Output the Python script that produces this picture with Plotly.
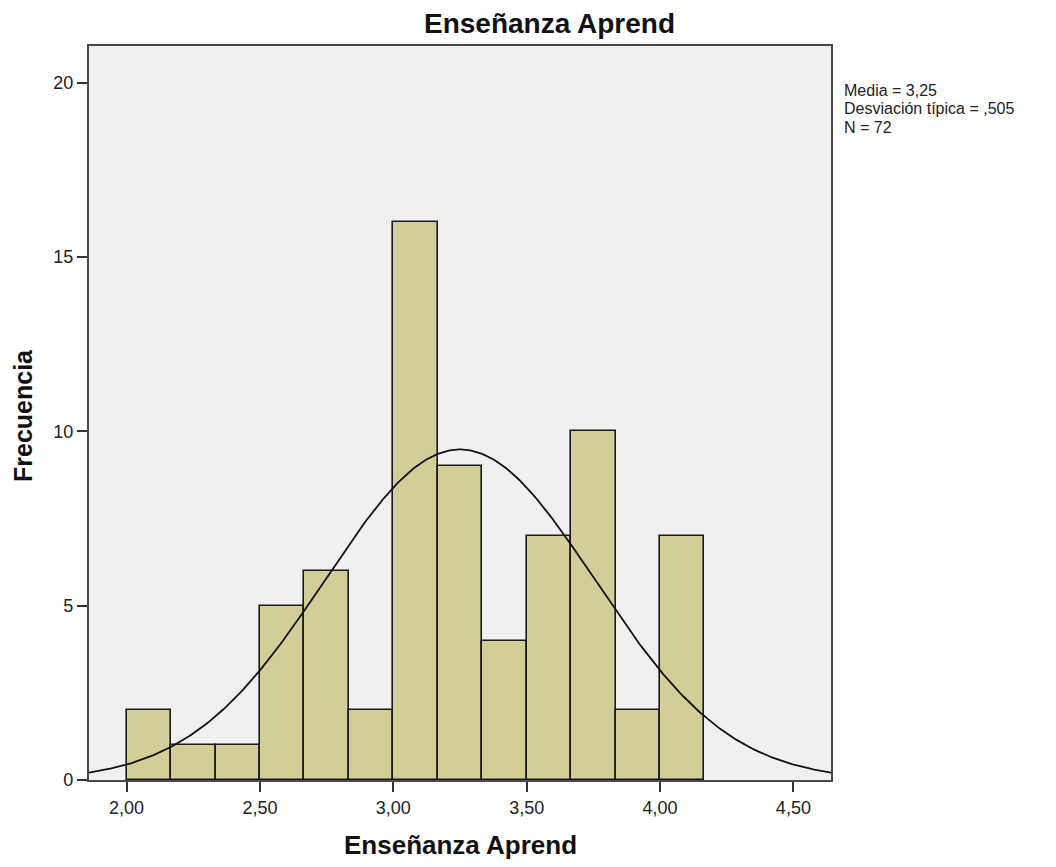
import numpy as np
import plotly.graph_objects as go

# Data
bin_starts = [2.0, 2.1667, 2.3333, 2.5, 2.6667, 2.8333, 3.0, 3.1667, 3.3333, 3.5, 3.6667, 3.8333, 4.0]
counts = [2, 1, 1, 5, 6, 2, 16, 9, 4, 7, 10, 2, 7]
bin_width = 1 / 6
mean_val = 3.25
sd_val = 0.505
n_val = 72
x_tick_vals = [2.0, 2.5, 3.0, 3.5, 4.0, 4.5]
x_tick_text = ["2,00", "2,50", "3,00", "3,50", "4,00", "4,50"]
y_tick_vals = [0, 5, 10, 15, 20]
stats_lines = ["Media = 3,25", "Desviación típica = ,505", "N = 72"]

x_range = [1.859, 4.641]
y_range = [0, 21.05]

centers = [s + bin_width / 2 for s in bin_starts]

xs = np.linspace(x_range[0], x_range[1], 400)
ys = n_val * bin_width * np.exp(-0.5 * ((xs - mean_val) / sd_val) ** 2) / (sd_val * np.sqrt(2 * np.pi))

fig = go.Figure()
fig.add_trace(go.Bar(
    x=centers, y=counts, width=bin_width,
    marker=dict(color="#D3CE97", line=dict(color="#1a1a1a", width=1.6)),
    hoverinfo="x+y",
))
fig.add_trace(go.Scatter(x=xs, y=ys, mode="lines", line=dict(color="#111111", width=1.8)))

font = "Liberation Sans, Arial, sans-serif"
# page body has an 8px margin; plot area target: x 89..831, y 46..780 on screen
fig.update_layout(
    width=1040, height=851,
    margin=dict(l=81, r=217, t=38, b=79),
    paper_bgcolor="white", plot_bgcolor="#F0F0F0",
    showlegend=False,
    bargap=0,
    font=dict(family=font, size=14, color="#222222"),
)
axis_common = dict(
    ticks="outside", ticklen=10, tickwidth=1.8, tickcolor="#333333",
    showgrid=False, zeroline=False,
    showline=True, linecolor="#4a4a4a", linewidth=2.2, mirror=True,
    tickfont=dict(size=18, family=font, color="#222222"),
)
fig.update_xaxes(range=x_range, tickvals=x_tick_vals, ticktext=x_tick_text, **axis_common)
fig.update_yaxes(range=y_range, tickvals=y_tick_vals, **axis_common)

fig.add_annotation(text="<b>Enseñanza Aprend</b>", xref="paper", yref="paper",
                   x=(549 - 89) / 742, y=1, yshift=23, showarrow=False,
                   font=dict(size=28, family=font, color="#111111"), xanchor="center", yanchor="middle")
fig.add_annotation(text="<b>Enseñanza Aprend</b>", xref="paper", yref="paper",
                   x=0.5, y=0, yshift=-65, showarrow=False,
                   font=dict(size=26, family=font, color="#111111"), xanchor="center", yanchor="middle")
fig.add_annotation(text="<b>Frecuencia</b>", xref="paper", yref="paper",
                   x=0, xshift=-66, y=(780 - 416) / 734, showarrow=False, textangle=-90,
                   font=dict(size=25, family=font, color="#111111"), xanchor="center", yanchor="middle")
for i, line in enumerate(stats_lines):
    yc = [90, 108.5, 127][i]
    fig.add_annotation(
        text=line, xref="paper", yref="paper", x=1, xshift=11, y=(780 - yc) / 734,
        showarrow=False, align="left", xanchor="left", yanchor="middle",
        font=dict(size=16, family=font, color="#222222"),
    )

fig.write_html("out.html")
